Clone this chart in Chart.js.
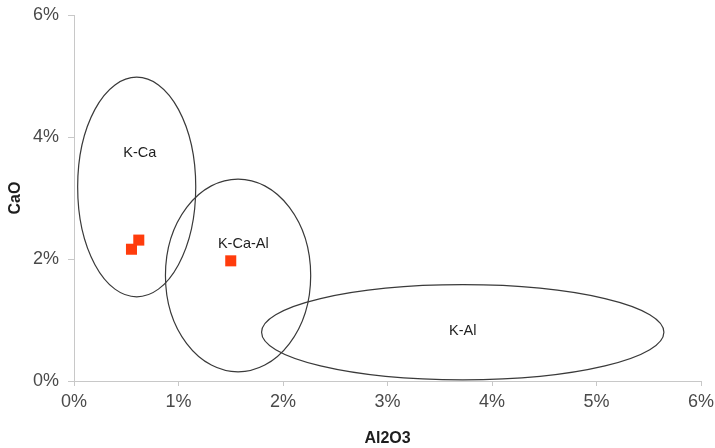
<!DOCTYPE html>
<html>
<head>
<meta charset="utf-8">
<script src="https://cdn.jsdelivr.net/npm/chart.js@4"></script>
<style>
html,body{margin:0;padding:0;background:#fff;}
#wrap{width:715px;height:448px;}
</style>
</head>
<body>
<div id="wrap"><canvas id="c" width="715" height="448"></canvas></div>
<script>
// data (values in %)
const pointX = [0.55, 0.62, 1.50];
const pointY = [2.16, 2.31, 1.97];
const groupNames = ['K-Ca', 'K-Ca-Al', 'K-Al'];
const ellipseCX = [0.60, 1.57, 3.72];
const ellipseCY = [3.18, 1.73, 0.80];
const ellipseRX = [0.565, 0.695, 1.925];
const ellipseRY = [1.80, 1.58, 0.78];
const labelX = [0.63, 1.62, 3.72];
const labelY = [3.74, 2.25, 0.82];
const xTicks = [0, 1, 2, 3, 4, 5, 6];
const yTicks = [0, 2, 4, 6];

const ellipsePlugin = {
  id: 'ellipses',
  afterDatasetsDraw(chart) {
    const {ctx, scales: {x, y}} = chart;
    ctx.save();
    ctx.strokeStyle = '#3a3a3a';
    ctx.lineWidth = 1.2;
    for (let i = 0; i < ellipseCX.length; i++) {
      const cx = x.getPixelForValue(ellipseCX[i]);
      const cy = y.getPixelForValue(ellipseCY[i]);
      const rx = Math.abs(x.getPixelForValue(ellipseCX[i] + ellipseRX[i]) - cx);
      const ry = Math.abs(y.getPixelForValue(ellipseCY[i] + ellipseRY[i]) - cy);
      ctx.beginPath();
      ctx.ellipse(cx, cy, rx, ry, 0, 0, Math.PI * 2);
      ctx.stroke();
    }
    ctx.fillStyle = '#1e1e1e';
    ctx.font = '14.5px "Liberation Sans", Arial, sans-serif';
    ctx.textAlign = 'center';
    ctx.textBaseline = 'middle';
    for (let i = 0; i < groupNames.length; i++) {
      ctx.fillText(groupNames[i], x.getPixelForValue(labelX[i]), y.getPixelForValue(labelY[i]));
    }
    ctx.restore();
  }
};

new Chart(document.getElementById('c'), {
  type: 'scatter',
  data: {
    datasets: [{
      data: pointX.map((v, i) => ({x: v, y: pointY[i]})),
      pointStyle: 'rect',
      pointRadius: 7.8,
      pointHoverRadius: 7.8,
      backgroundColor: '#ff3c0c',
      borderColor: '#ff3c0c',
      borderWidth: 0
    }]
  },
  options: {
    responsive: false,
    animation: false,
    events: [],
    layout: {padding: {top: 15, right: 14, left: 0, bottom: 0}},
    plugins: {legend: {display: false}, tooltip: {enabled: false}},
    scales: {
      x: {
        type: 'linear', min: 0, max: 6,
        afterBuildTicks: (s) => { s.ticks = xTicks.map(v => ({value: v})); },
        afterFit: (s) => { s.height = 67; s.paddingLeft = 0; s.paddingRight = 0; },
        ticks: {
          callback: v => v + '%',
          color: '#4a4a4a',
          font: {family: '"Liberation Sans", Arial, sans-serif', size: 18},
          padding: 5,
          maxRotation: 0
        },
        grid: {drawOnChartArea: false, drawTicks: true, tickLength: 5, color: '#c8c8c8'},
        border: {color: '#c8c8c8', width: 1},
        title: {
          display: true, text: 'Al2O3', color: '#1e1e1e',
          font: {family: '"Liberation Sans", Arial, sans-serif', size: 16, weight: 'bold'},
          padding: {top: 10, bottom: 0}
        }
      },
      y: {
        type: 'linear', min: 0, max: 6,
        afterBuildTicks: (s) => { s.ticks = yTicks.map(v => ({value: v})); },
        afterFit: (s) => { s.width = 74; s.paddingTop = 0; s.paddingBottom = 0; },
        ticks: {
          callback: v => v + '%',
          color: '#4a4a4a',
          font: {family: '"Liberation Sans", Arial, sans-serif', size: 18},
          padding: 9
        },
        grid: {drawOnChartArea: false, drawTicks: true, tickLength: 6, color: '#c8c8c8'},
        border: {color: '#c8c8c8', width: 1},
        title: {
          display: true, text: 'CaO', color: '#1e1e1e',
          font: {family: '"Liberation Sans", Arial, sans-serif', size: 16, weight: 'bold'},
          padding: {top: 6, bottom: 4}
        }
      }
    }
  },
  plugins: [ellipsePlugin]
});
</script>
</body>
</html>
